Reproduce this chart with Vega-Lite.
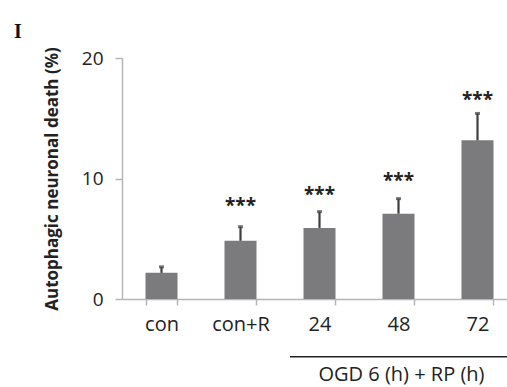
{
  "$schema": "https://vega.github.io/schema/vega-lite/v6.json",
  "autosize": {"type": "none"},
  "width": 385,
  "height": 241,
  "padding": {"left": 122, "top": 58, "right": 0, "bottom": 88},
  "background": "white",
  "title": {
    "text": "I",
    "anchor": "start",
    "frame": "group",
    "font": "Liberation Serif",
    "fontWeight": "bold",
    "fontSize": 20,
    "color": "#111",
    "baseline": "alphabetic",
    "dx": -108,
    "dy": 36,
    "offset": 25
  },
  "config": {
    "view": {"stroke": null},
    "font": "Open Sans"
  },
  "datasets": {
    "bars": [
      {"group": "con", "value": 2.17, "upper": 2.67, "star": null, "sig": ""},
      {"group": "con+R", "value": 4.83, "upper": 6.0, "star": 8.17, "sig": "***"},
      {"group": "24", "value": 5.9, "upper": 7.25, "star": 9.08, "sig": "***"},
      {"group": "48", "value": 7.08, "upper": 8.33, "star": 10.17, "sig": "***"},
      {"group": "72", "value": 13.17, "upper": 15.4, "star": 16.9, "sig": "***"}
    ],
    "annot": [
      {"start": "24", "end": "72", "mid": "48", "lineY": -4.8, "textY": -6.3, "label": "OGD 6 (h) + RP (h)"}
    ]
  },
  "layer": [
    {
      "data": {"name": "bars"},
      "layer": [
        {
          "mark": {"type": "bar", "color": "#7b7b7d", "width": 32},
          "encoding": {
            "x": {
              "field": "group", "type": "nominal",
              "scale": {"domain": ["con", "con+R", "24", "48", "72"], "range": [0, 395], "paddingInner": 0.6, "paddingOuter": 0.3},
              "axis": {
                "title": null, "labelAngle": 0, "labelFontSize": 20, "labelColor": "#222",
                "labelPadding": 9, "tickBand": "extent", "tickSize": 6,
                "domainColor": "#b5b5b5", "tickColor": "#b5b5b5", "domainWidth": 1.5, "tickWidth": 1.5
              }
            },
            "y": {
              "field": "value", "type": "quantitative",
              "scale": {"domain": [0, 20], "nice": false},
              "axis": {
                "values": [0, 10, 20], "grid": false, "title": "Autophagic neuronal death (%)",
                "titleFontSize": 17, "titleFontWeight": "bold", "titleColor": "#222", "titlePadding": 20,
                "labelFontSize": 19, "labelColor": "#222", "labelPadding": 12, "tickSize": 7,
                "domainColor": "#b5b5b5", "tickColor": "#b5b5b5", "domainWidth": 1.5, "tickWidth": 1.5
              }
            }
          }
        },
        {
          "mark": {"type": "rule", "color": "#3e3e3e", "strokeWidth": 2.2},
          "encoding": {
            "x": {"field": "group", "type": "nominal"},
            "y": {"field": "value", "type": "quantitative"},
            "y2": {"field": "upper"}
          }
        },
        {
          "mark": {"type": "tick", "color": "#3e3e3e", "size": 5, "thickness": 3},
          "encoding": {
            "x": {"field": "group", "type": "nominal"},
            "y": {"field": "upper", "type": "quantitative"}
          }
        },
        {
          "mark": {"type": "text", "fontSize": 19, "fontWeight": "bold", "color": "#222", "baseline": "middle", "dy": 5},
          "encoding": {
            "x": {"field": "group", "type": "nominal"},
            "y": {"field": "star", "type": "quantitative"},
            "text": {"field": "sig"}
          }
        }
      ]
    },
    {
      "data": {"name": "annot"},
      "layer": [
        {
          "mark": {"type": "rule", "color": "#222", "strokeWidth": 1.5, "xOffset": -29.5, "x2Offset": 40},
          "encoding": {
            "x": {"field": "start", "type": "nominal"},
            "x2": {"field": "end"},
            "y": {"field": "lineY", "type": "quantitative"}
          }
        },
        {
          "mark": {"type": "text", "fontSize": 20, "color": "#222", "baseline": "middle", "dx": 3},
          "encoding": {
            "x": {"field": "mid", "type": "nominal"},
            "y": {"field": "textY", "type": "quantitative"},
            "text": {"field": "label"}
          }
        }
      ]
    }
  ]
}
